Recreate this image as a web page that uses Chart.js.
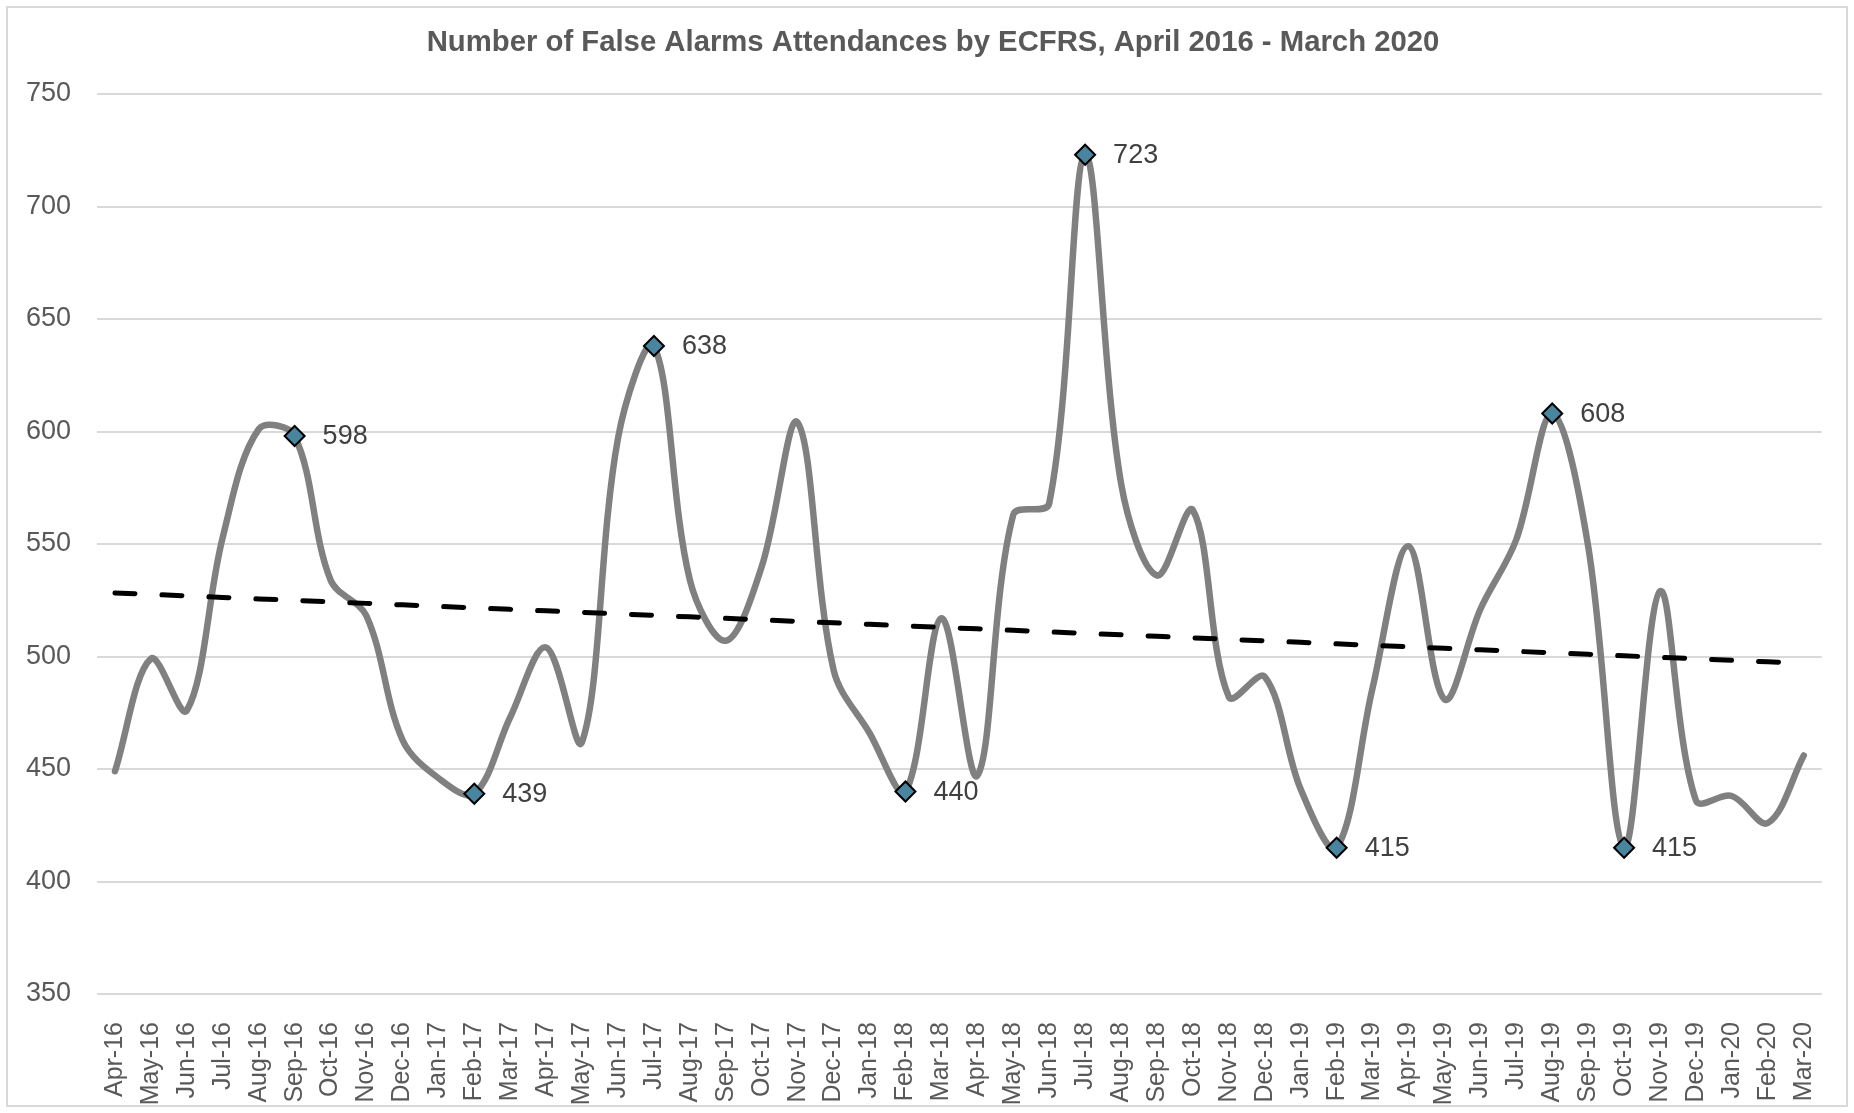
<!DOCTYPE html>
<html>
<head>
<meta charset="utf-8">
<title>False Alarms Attendances by ECFRS</title>
<script src="https://cdn.jsdelivr.net/npm/chart.js@4.4.1/dist/chart.umd.min.js"></script>
<style>
  html, body { margin: 0; padding: 0; background: #ffffff; }
  #wrap { position: relative; width: 1854px; height: 1113px; }
  #frame { position: absolute; left: 6px; top: 6px; width: 1838px; height: 1097px;
           border: 2px solid #d9d9d9; pointer-events: none; }
  canvas { display: block; }
</style>
</head>
<body>
<div id="wrap">
  <canvas id="chart" width="1854" height="1113"></canvas>
  <div id="frame"></div>
</div>
<script>
// Monthly false alarm attendances, April 2016 - March 2020
const months = [
  'Apr-16','May-16','Jun-16','Jul-16','Aug-16','Sep-16','Oct-16','Nov-16','Dec-16','Jan-17','Feb-17','Mar-17',
  'Apr-17','May-17','Jun-17','Jul-17','Aug-17','Sep-17','Oct-17','Nov-17','Dec-17','Jan-18','Feb-18','Mar-18',
  'Apr-18','May-18','Jun-18','Jul-18','Aug-18','Sep-18','Oct-18','Nov-18','Dec-18','Jan-19','Feb-19','Mar-19',
  'Apr-19','May-19','Jun-19','Jul-19','Aug-19','Sep-19','Oct-19','Nov-19','Dec-19','Jan-20','Feb-20','Mar-20'
];

const attendances = [
  449, 499, 476, 553, 601, 598, 534, 518, 463, 446, 439, 473,
  504, 462, 597, 638, 534, 507, 540, 604, 494, 466, 440, 517,
  447, 563, 568, 723, 577, 536, 565, 482, 491, 441, 415, 486,
  549, 481, 521, 552, 608, 549, 415, 529, 436, 438, 426, 456
];

// Peaks and troughs that carry a marker and a value label
const highlighted = ['Sep-16', 'Feb-17', 'Jul-17', 'Feb-18', 'Jul-18', 'Feb-19', 'Aug-19', 'Oct-19'];

const yTicks = [350, 400, 450, 500, 550, 600, 650, 700, 750];

const chartTitle = 'Number of False Alarms Attendances by ECFRS, April 2016 - March 2020';

// Least-squares linear trend over the monthly series
function linearTrend(values) {
  const n = values.length;
  let sx = 0, sy = 0, sxy = 0, sxx = 0;
  values.forEach((v, i) => { sx += i; sy += v; sxy += i * v; sxx += i * i; });
  const slope = (n * sxy - sx * sy) / (n * sxx - sx * sx);
  const intercept = (sy - slope * sx) / n;
  return values.map((_, i) => intercept + slope * i);
}
const trend = linearTrend(attendances);

const isMarked = months.map(m => highlighted.includes(m));

const FONT = "'Liberation Sans', Arial, Helvetica, sans-serif";

// Heading centred over the whole framed chart
const heading = {
  id: 'heading',
  afterDraw(chart) {
    const ctx = chart.ctx;
    ctx.save();
    ctx.font = 'bold 29.3px ' + FONT;
    ctx.fillStyle = '#595959';
    ctx.textAlign = 'center';
    ctx.textBaseline = 'middle';
    ctx.fillText(chartTitle, 933, 43);
    ctx.restore();
  }
};

const valueLabels = {
  id: 'valueLabels',
  afterDatasetsDraw(chart) {
    const meta = chart.getDatasetMeta(0);
    const ctx = chart.ctx;
    ctx.save();
    ctx.font = '27px ' + FONT;
    ctx.fillStyle = '#404040';
    ctx.textAlign = 'left';
    ctx.textBaseline = 'middle';
    meta.data.forEach((pt, i) => {
      if (!isMarked[i]) return;
      ctx.fillText(String(attendances[i]), pt.x + 28, pt.y + 1);
    });
    ctx.restore();
  }
};

new Chart(document.getElementById('chart'), {
  type: 'line',
  data: {
    labels: months,
    datasets: [
      {
        label: 'False alarms',
        data: attendances,
        borderColor: '#808080',
        borderWidth: 6.5,
        borderCapStyle: 'round',
        borderJoinStyle: 'round',
        tension: 0.35,
        fill: false,
        pointStyle: 'rectRot',
        pointRadius: isMarked.map(m => m ? 10 : 0),
        pointHoverRadius: isMarked.map(m => m ? 10 : 0),
        pointBackgroundColor: '#4a85a0',
        pointBorderColor: '#000000',
        pointBorderWidth: 2,
        order: 1
      },
      {
        label: 'Linear trend',
        data: trend,
        borderColor: '#000000',
        borderWidth: 5,
        borderDash: [20, 27],
        borderCapStyle: 'round',
        tension: 0,
        pointRadius: 0,
        fill: false,
        order: 0
      }
    ]
  },
  options: {
    responsive: false,
    animation: false,
    events: [],
    layout: { padding: { left: 20, right: 24, top: 94, bottom: 0 } },
    plugins: {
      legend: { display: false },
      tooltip: { enabled: false },
      title: { display: false }
    },
    scales: {
      x: {
        offset: true,
        grid: { display: false },
        border: { display: false },
        ticks: {
          color: '#595959',
          font: { family: FONT, size: 25 },
          autoSkip: false,
          minRotation: 90,
          maxRotation: 90,
          padding: 20
        },
        afterFit(scale) { scale.height = 119; }
      },
      y: {
        min: 350,
        max: 750,
        border: { display: false },
        grid: { color: '#d9d9d9', lineWidth: 2, drawTicks: false },
        afterBuildTicks(scale) { scale.ticks = yTicks.map(v => ({ value: v })); },
        ticks: {
          color: '#595959',
          font: { family: FONT, size: 27 },
          padding: 26
        },
        afterFit(scale) { scale.width = 77; }
      }
    }
  },
  plugins: [valueLabels, heading]
});
</script>
</body>
</html>
